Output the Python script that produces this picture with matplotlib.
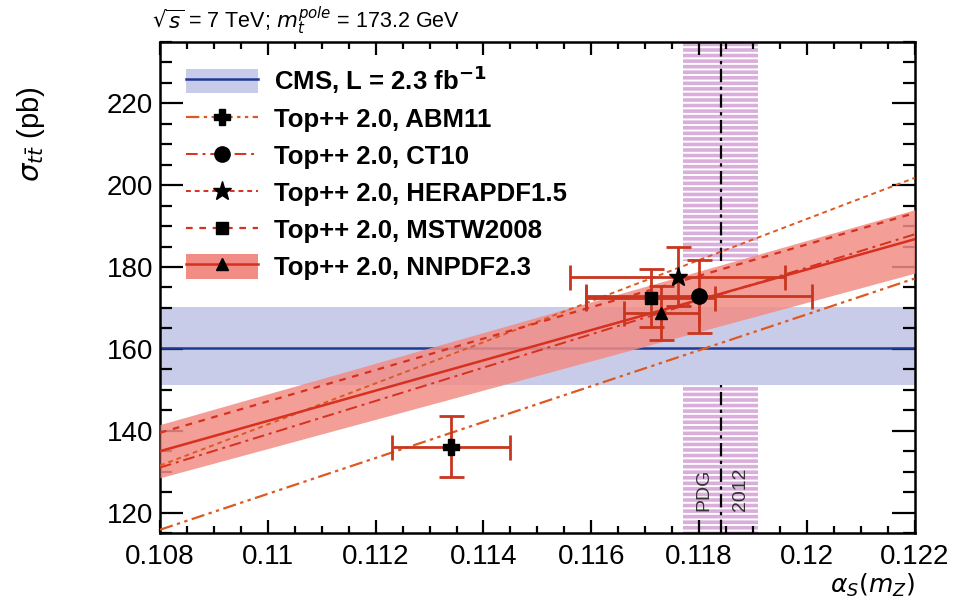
import matplotlib.pyplot as plt
from matplotlib.lines import Line2D
from matplotlib.patches import Patch
from matplotlib.ticker import MultipleLocator

plt.rcParams["font.family"] = ["Liberation Sans", "DejaVu Sans"]
plt.rcParams["hatch.linewidth"] = 1.4
plt.rcParams["hatch.color"] = "white"

# alpha_s range where the theory curves are evaluated
alphas_ends = [0.108, 0.122]

# theory predictions (sigma_tt in pb) at the two ends of the alpha_s range
abm11_line = [115.8, 177.2]
ct10_line = [131.0, 188.0]
hera_line = [131.5, 201.8]
mstw_line = [139.5, 193.2]
nnpdf_line = [135.0, 186.8]
nnpdf_band_lo = [128.5, 178.5]
nnpdf_band_hi = [141.5, 194.0]

# extracted alpha_s points
pdf_names = ["ABM11", "CT10", "HERAPDF1.5", "MSTW2008", "NNPDF2.3"]
pt_alphas = [0.1134, 0.1180, 0.1176, 0.1171, 0.1173]
pt_alphas_err = [0.0011, 0.0021, 0.0020, 0.0012, 0.0007]
pt_sigma = [136.1, 172.8, 177.6, 172.4, 168.8]
pt_sigma_err = [7.4, 8.9, 7.2, 7.1, 6.6]

# CMS measurement
cms_center = 160.2
cms_lo = 151.2
cms_hi = 170.2

# PDG 2012 world average
pdg_alphas = 0.1184
pdg_err = 0.0007
pdg_gap = [151.2, 181.5]

ylim = (115, 235)
xlim = (0.108, 0.122)

red = "#d8301f"
orange = "#dc5a22"
ebar_col = "#c9361f"

fig = plt.figure(figsize=(9.7, 6.05), dpi=100)
ax = fig.add_axes([0.165, 0.119, 0.778, 0.8116])

# PDG band, interrupted behind the measurement region
for lo, hi in [(ylim[0], pdg_gap[0]), (pdg_gap[1], ylim[1])]:
    ax.fill_between([pdg_alphas - pdg_err, pdg_alphas + pdg_err], lo, hi,
                    facecolor="#d9aedb", hatch="---", linewidth=0, zorder=1)
    ax.plot([pdg_alphas, pdg_alphas], [lo, hi], color="black", lw=1.6,
            linestyle=(0, (6, 2, 1.5, 2)), zorder=2)

ax.text(pdg_alphas - 0.00032, 120.5, "PDG", rotation=90, ha="center",
        va="bottom", fontsize=14, color="#333333", zorder=3)
ax.text(pdg_alphas + 0.00036, 120.5, "2012", rotation=90, ha="center",
        va="bottom", fontsize=14, color="#333333", zorder=3)

# CMS band
ax.axhspan(cms_lo, cms_hi, color="#c8cce9", lw=0, zorder=1.5)
ax.axhline(cms_center, color="#1f3a96", lw=1.8, zorder=2)

# NNPDF band
ax.fill_between(alphas_ends, nnpdf_band_lo, nnpdf_band_hi, color="#f28d85",
                alpha=0.85, lw=0, zorder=3)

ls_abm = (0, (6, 2, 1.5, 2, 1.5, 2))
ls_ct10 = (0, (6, 2.5, 1.5, 2.5))
ls_hera = (0, (2.5, 2))
ls_mstw = (0, (3, 3))

ax.plot(alphas_ends, abm11_line, color=orange, lw=1.6, ls=ls_abm, zorder=4)
ax.plot(alphas_ends, ct10_line, color=red, lw=1.4, ls=ls_ct10, zorder=4)
ax.plot(alphas_ends, hera_line, color=orange, lw=1.4, ls=ls_hera, zorder=4)
ax.plot(alphas_ends, mstw_line, color=red, lw=1.6, ls=ls_mstw, zorder=4)
ax.plot(alphas_ends, nnpdf_line, color=red, lw=1.8, zorder=4)

markers = ["P", "o", "*", "s", "^"]
msizes = [11, 11, 14, 9, 9]
for i in range(len(pdf_names)):
    ax.errorbar(pt_alphas[i], pt_sigma[i], xerr=pt_alphas_err[i],
                yerr=pt_sigma_err[i], fmt="none", ecolor=ebar_col,
                elinewidth=2, capsize=9, capthick=2, zorder=5)
for i in range(len(pdf_names)):
    ax.plot(pt_alphas[i], pt_sigma[i], marker=markers[i], color="black",
            ms=msizes[i], ls="none", zorder=6)

ax.set_xlim(xlim)
ax.set_ylim(ylim)
ax.xaxis.set_major_locator(MultipleLocator(0.002))
ax.xaxis.set_minor_locator(MultipleLocator(0.0005))
ax.yaxis.set_major_locator(MultipleLocator(20))
ax.yaxis.set_minor_locator(MultipleLocator(5))
ax.set_xticks([0.108, 0.11, 0.112, 0.114, 0.116, 0.118, 0.12, 0.122])
ax.set_xticklabels(["0.108", "0.11", "0.112", "0.114", "0.116", "0.118",
                    "0.12", "0.122"])
ax.tick_params(axis="both", which="both", direction="in", top=True,
               right=True, width=1.6, labelsize=20)
ax.tick_params(axis="x", which="major", length=9.5, pad=8)
ax.tick_params(axis="x", which="minor", length=5)
ax.tick_params(axis="y", which="major", length=16.5, pad=5)
ax.tick_params(axis="y", which="minor", length=8.5)
for sp in ax.spines.values():
    sp.set_linewidth(1.8)

ax.set_xlabel(r"$\alpha_S(m_Z)$", fontsize=18, ha="right", va="top")
ax.xaxis.set_label_coords(1.0, -0.08)
ax.set_ylabel(r"$\sigma_{t\bar{t}}$ (pb)", fontsize=21, ha="right")
ax.yaxis.set_label_coords(-0.15, 0.91)

fig.text(0.157, 0.953, r"$\sqrt{s}$ = 7 TeV; $m_t^{pole}$ = 173.2 GeV",
         fontsize=15.5, ha="left", va="baseline")

handles = [
    (Patch(facecolor="#c8cce9", lw=0), Line2D([], [], color="#1f3a96", lw=1.8)),
    Line2D([], [], color=orange, lw=1.6, ls=ls_abm, marker="P", mfc="black",
           mec="black", ms=11),
    Line2D([], [], color=red, lw=1.4, ls=ls_ct10, marker="o", mfc="black",
           mec="black", ms=11),
    Line2D([], [], color=red, lw=1.4, ls=ls_hera, marker="*", mfc="black",
           mec="black", ms=14),
    Line2D([], [], color=red, lw=1.6, ls=ls_mstw, marker="s", mfc="black",
           mec="black", ms=9),
    (Patch(facecolor="#f28d85", lw=0),
     Line2D([], [], color=red, lw=1.8, marker="^", mfc="black", mec="black",
            ms=9)),
]
labels = [r"CMS, L = 2.3 fb$^{\mathbf{-1}}$"] + \
    ["Top++ 2.0, " + n for n in pdf_names]
leg = ax.legend(handles, labels, loc="upper left",
                bbox_to_anchor=(0.035, 0.957), frameon=False,
                prop={"size": 18.5, "weight": "bold"}, handlelength=2.8,
                handleheight=1.1, handletextpad=0.6, labelspacing=0.42,
                borderaxespad=0, borderpad=0)
leg.set_zorder(7)

fig.savefig("out.png", dpi=100)
